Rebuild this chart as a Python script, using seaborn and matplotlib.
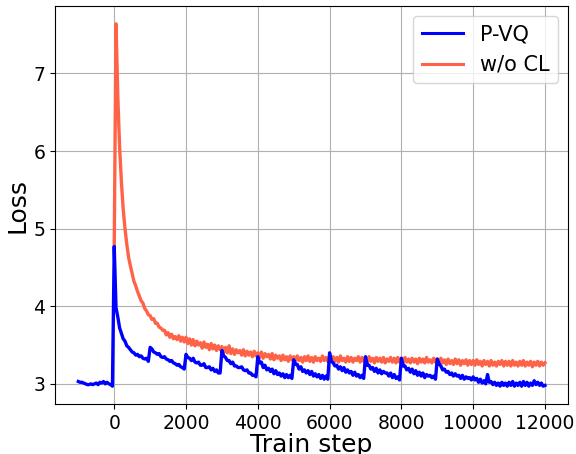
import matplotlib
matplotlib.use("Agg")
import matplotlib.pyplot as plt
import seaborn as sns
import pandas as pd

# ---- data ----
pvq_steps = list(range(-1000, 12001, 50))
pvq_loss = [
    # -1000 .. -50
    3.03, 3.02, 3.02, 3.01, 3.00, 2.99, 2.99, 3.00, 2.99, 3.00,
    3.01, 2.99, 3.02, 3.01, 3.03, 3.00, 3.02, 3.00, 2.99, 2.97,
    # 0 .. 950
    4.77, 3.98, 3.86, 3.72, 3.65, 3.58, 3.55, 3.49, 3.47, 3.44,
    3.41, 3.40, 3.37, 3.38, 3.35, 3.36, 3.33, 3.32, 3.33, 3.29,
    # 1000 .. 1950
    3.47, 3.45, 3.41, 3.40, 3.38, 3.39, 3.35, 3.34, 3.35, 3.32,
    3.31, 3.29, 3.30, 3.27, 3.26, 3.24, 3.25, 3.22, 3.21, 3.19,
    # 2000 .. 2950
    3.38, 3.34, 3.33, 3.30, 3.33, 3.28, 3.27, 3.28, 3.24, 3.24,
    3.26, 3.21, 3.21, 3.22, 3.18, 3.20, 3.16, 3.18, 3.14, 3.14,
    # 3000 .. 3950
    3.43, 3.36, 3.34, 3.30, 3.30, 3.26, 3.28, 3.23, 3.23, 3.21,
    3.21, 3.22, 3.18, 3.17, 3.18, 3.14, 3.14, 3.11, 3.11, 3.09,
    # 4000 .. 4950
    3.35, 3.27, 3.28, 3.21, 3.24, 3.18, 3.20, 3.16, 3.19, 3.13,
    3.17, 3.12, 3.14, 3.10, 3.13, 3.08, 3.12, 3.08, 3.11, 3.07,
    # 5000 .. 5950
    3.31, 3.25, 3.25, 3.19, 3.22, 3.16, 3.18, 3.14, 3.17, 3.12,
    3.16, 3.10, 3.13, 3.09, 3.12, 3.07, 3.11, 3.06, 3.10, 3.06,
    # 6000 .. 6950
    3.40, 3.29, 3.27, 3.23, 3.24, 3.19, 3.22, 3.17, 3.21, 3.15,
    3.18, 3.14, 3.16, 3.11, 3.15, 3.10, 3.12, 3.08, 3.11, 3.07,
    # 7000 .. 7950
    3.35, 3.24, 3.24, 3.19, 3.21, 3.16, 3.20, 3.14, 3.18, 3.13,
    3.16, 3.14, 3.14, 3.10, 3.14, 3.08, 3.12, 3.07, 3.09, 3.05,
    # 8000 .. 8950
    3.33, 3.23, 3.23, 3.18, 3.20, 3.15, 3.19, 3.13, 3.17, 3.11,
    3.15, 3.10, 3.14, 3.08, 3.12, 3.10, 3.11, 3.08, 3.10, 3.06,
    # 9000 .. 9950
    3.32, 3.26, 3.23, 3.18, 3.19, 3.15, 3.16, 3.12, 3.14, 3.10,
    3.13, 3.10, 3.11, 3.07, 3.11, 3.06, 3.09, 3.07, 3.08, 3.05,
    # 10000 .. 10950
    3.09, 3.05, 3.07, 3.02, 3.06, 3.01, 3.04, 3.00, 3.12, 3.02,
    3.03, 2.99, 3.02, 2.98, 3.01, 2.97, 3.02, 2.98, 3.01, 2.97,
    # 11000 .. 11950
    3.02, 2.98, 3.03, 2.97, 3.01, 2.98, 3.02, 2.97, 3.03, 2.98,
    3.02, 2.97, 3.01, 2.98, 3.04, 2.99, 3.02, 2.98, 3.01, 2.97,
    # 12000
    2.98,
]

wocl_steps = list(range(0, 12001, 50))
wocl_loss = [
    # 0 .. 950
    4.78, 7.64, 6.70, 6.05, 5.60, 5.25, 5.00, 4.80, 4.63, 4.52,
    4.42, 4.32, 4.26, 4.19, 4.13, 4.07, 4.04, 3.97, 3.94, 3.89,
    # 1000 .. 1950
    3.88, 3.83, 3.84, 3.78, 3.78, 3.73, 3.72, 3.69, 3.69, 3.63,
    3.66, 3.60, 3.64, 3.58, 3.61, 3.57, 3.62, 3.55, 3.60, 3.54,
    # 2000 .. 2950
    3.60, 3.52, 3.58, 3.50, 3.57, 3.49, 3.55, 3.50, 3.53, 3.46,
    3.54, 3.47, 3.51, 3.44, 3.52, 3.45, 3.50, 3.43, 3.49, 3.44,
    # 3000 .. 3950
    3.48, 3.41, 3.47, 3.40, 3.49, 3.39, 3.45, 3.38, 3.44, 3.40,
    3.43, 3.37, 3.44, 3.36, 3.42, 3.37, 3.41, 3.35, 3.42, 3.36,
    # 4000 .. 4950
    3.40, 3.34, 3.41, 3.33, 3.39, 3.35, 3.38, 3.32, 3.39, 3.31,
    3.37, 3.33, 3.36, 3.30, 3.37, 3.31, 3.35, 3.29, 3.36, 3.31,
    # 5000 .. 5950
    3.35, 3.29, 3.36, 3.30, 3.34, 3.28, 3.35, 3.30, 3.36, 3.29,
    3.34, 3.28, 3.35, 3.30, 3.33, 3.29, 3.36, 3.30, 3.34, 3.29,
    # 6000 .. 6950
    3.36, 3.30, 3.35, 3.29, 3.34, 3.28, 3.36, 3.30, 3.33, 3.28,
    3.35, 3.29, 3.34, 3.28, 3.33, 3.30, 3.35, 3.28, 3.34, 3.29,
    # 7000 .. 7950
    3.34, 3.28, 3.35, 3.29, 3.33, 3.27, 3.34, 3.29, 3.33, 3.28,
    3.34, 3.27, 3.32, 3.29, 3.34, 3.28, 3.33, 3.27, 3.34, 3.28,
    # 8000 .. 8950
    3.33, 3.27, 3.34, 3.28, 3.32, 3.27, 3.33, 3.28, 3.32, 3.26,
    3.33, 3.28, 3.32, 3.27, 3.34, 3.28, 3.31, 3.27, 3.33, 3.28,
    # 9000 .. 9950
    3.32, 3.26, 3.33, 3.27, 3.31, 3.25, 3.32, 3.26, 3.30, 3.25,
    3.32, 3.26, 3.31, 3.24, 3.30, 3.26, 3.31, 3.24, 3.30, 3.25,
    # 10000 .. 10950
    3.30, 3.24, 3.31, 3.25, 3.29, 3.23, 3.30, 3.25, 3.29, 3.23,
    3.30, 3.24, 3.28, 3.23, 3.29, 3.25, 3.30, 3.23, 3.29, 3.24,
    # 11000 .. 11950
    3.29, 3.23, 3.30, 3.24, 3.28, 3.23, 3.29, 3.24, 3.30, 3.23,
    3.28, 3.24, 3.29, 3.22, 3.28, 3.24, 3.29, 3.23, 3.28, 3.24,
    # 12000
    3.27,
]

series_names = ["P-VQ", "w/o CL"]
series_colors = ["blue", "tomato"]
x_label = "Train step"
y_label = "Loss"
x_ticks = [0, 2000, 4000, 6000, 8000, 10000, 12000]
y_ticks = [3, 4, 5, 6, 7]

df_pvq = pd.DataFrame({"step": pvq_steps, "loss": pvq_loss})
df_wocl = pd.DataFrame({"step": wocl_steps, "loss": wocl_loss})

fig, ax = plt.subplots(figsize=(5.76, 4.54), dpi=100)
fig.subplots_adjust(left=0.0955, right=0.9866, top=0.9874, bottom=0.1095)

sns.lineplot(data=df_wocl, x="step", y="loss", ax=ax, color=series_colors[1],
             lw=2.4, estimator=None, label=series_names[1], zorder=2)
sns.lineplot(data=df_pvq, x="step", y="loss", ax=ax, color=series_colors[0],
             lw=2.4, estimator=None, label=series_names[0], zorder=3)

ax.grid(True, color="#b0b0b0", lw=0.8)
ax.set_axisbelow(True)
ax.set_xticks(x_ticks)
ax.set_yticks(y_ticks)
ax.tick_params(labelsize=13.5)
ax.set_xlabel(x_label, fontsize=18, labelpad=0)
ax.set_ylabel(y_label, fontsize=18, labelpad=3)

handles, labels = ax.get_legend_handles_labels()
order = [labels.index(n) for n in series_names]
leg = ax.legend([handles[i] for i in order], [labels[i] for i in order],
                loc="upper right", fontsize=15)
for line in leg.get_lines():
    line.set_linewidth(2.2)

fig.savefig("out.png", dpi=100)
